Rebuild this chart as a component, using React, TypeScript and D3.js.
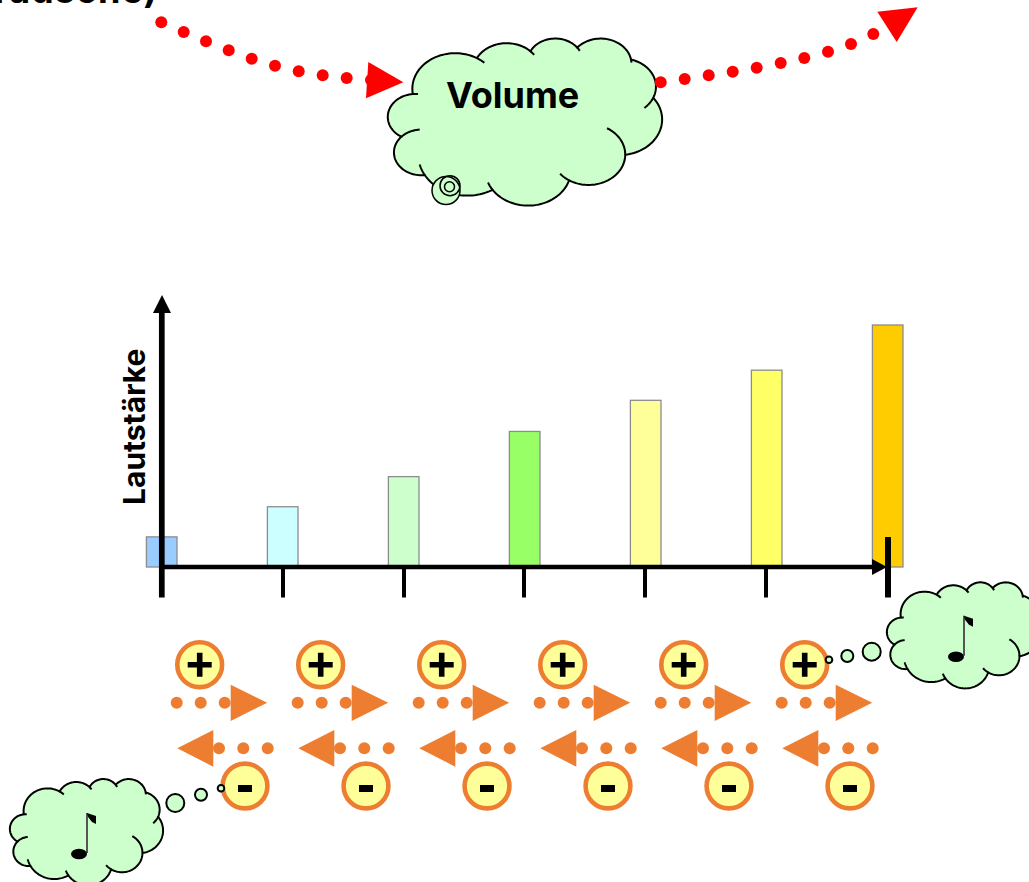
import React from "react";
import * as d3 from "d3";

const W = 1029, H = 882;
const barLabels = ["1", "2", "3", "4", "5", "6", "7"];
const barValues = [30, 60, 90, 135, 166, 196, 241];
const barColors = ["#99ccff", "#ccffff", "#ccffcc", "#99ff66", "#ffff99", "#ffff66", "#ffcc00"];
const plusCenters = [199.7, 320.7, 441.7, 562.7, 683.7, 804.7];
const minusCenters = [245, 366, 487, 608, 729, 850];
const tickPositions = [162, 283, 404, 524, 645, 766, 888];
const redLeft: [number, number][] = [[161.3, 22.3], [183.7, 32], [206, 41.3], [228.7, 50.3], [251.7, 58.7], [275, 65.7], [298.7, 71.3], [322.7, 75.3], [346.7, 78], [371, 80]];
const redRight: [number, number][] = [[660.7, 82.3], [684.7, 79], [708.7, 75.3], [732.7, 71.7], [756.7, 67.7], [780.7, 63], [804.3, 58], [828, 51.7], [851, 44], [873.3, 34]];

const cloudStart: [number, number] = [3900, 14370];
// wR, hR, start angle, sweep
const cloudArcs: [number, number, number, number][] = [
  [6753, 9190, -11429249, 7426832],
  [5333, 7267, -8646143, 5396714],
  [4365, 5945, -8748475, 5983381],
  [4857, 6595, -7859164, 7034504],
  [5333, 7273, -4722533, 6541615],
  [6775, 9220, -2776035, 7816140],
  [5785, 7867, 37501, 6842000],
  [6752, 9215, 1347096, 6910353],
  [7720, 10543, 3974558, 4542661],
  [4360, 5918, -16496525, 8804134],
  [4345, 5945, -14809710, 9151131],
];
// how far each lobe's outline runs on into the cloud (radians past its end / before its start)
const lobeEndRun = [0.22, 0.17, 0.17, 0.12, 0.45, 0, 0.33, 0.23, 0.28, 0.75, 0.2];
const lobeStartRun = [0, 0, 0, 0, 0, 0, 1.05, 0, 0, 0, 0];

function param(a: number, wR: number, hR: number) {
  const r = (a / 60000) * Math.PI / 180;
  return Math.atan2(wR * Math.sin(r), hR * Math.cos(r));
}
function cloudGeometry() {
  let x = cloudStart[0], y = cloudStart[1];
  const pts: [number, number][] = [[x, y]];
  const inner: [number, number][][] = [];
  cloudArcs.forEach(([wR, hR, st, sw], k) => {
    const t0 = param(st, wR, hR), t1 = param(st + sw, wR, hR);
    let dt = t1 - t0;
    if (sw > 0 && dt < 0) dt += 2 * Math.PI;
    if (sw < 0 && dt > 0) dt -= 2 * Math.PI;
    const cx = x - wR * Math.cos(t0), cy = y - hR * Math.sin(t0);
    const n = 40;
    for (let i = 1; i <= n; i++) {
      const t = t0 + dt * i / n;
      pts.push([cx + wR * Math.cos(t), cy + hR * Math.sin(t)]);
    }
    const run = (from: number, len: number) => {
      const ext: [number, number][] = [];
      for (let i = 0; i <= 12; i++) {
        const t = from + len * i / 12;
        ext.push([cx + wR * Math.cos(t), cy + hR * Math.sin(t)]);
      }
      inner.push(ext);
    };
    if (lobeEndRun[k] > 0) run(t1, lobeEndRun[k]);
    if (lobeStartRun[k] > 0) run(t0, -lobeStartRun[k]);
    x = cx + wR * Math.cos(t1); y = cy + hR * Math.sin(t1);
  });
  return { pts, inner };
}
const geo = cloudGeometry();

function Cloud({ x0, x1, y0, y1, lw = 2 }: { x0: number; x1: number; y0: number; y1: number; lw?: number }) {
  const sx = d3.scaleLinear().domain([0, 43200]).range([x0, x1]);
  const sy = d3.scaleLinear().domain([0, 43200]).range([y0, y1]);
  const line = d3.line<[number, number]>().x(d => sx(d[0])).y(d => sy(d[1]));
  return (
    <g fill="none" stroke="#000" strokeWidth={lw}>
      <path d={line(geo.pts)! + "Z"} fill="#ccffcc" />
      {geo.inner.map((p, i) => <path key={i} d={line(p)!} />)}
    </g>
  );
}

function Note({ x, y }: { x: number; y: number }) {
  return (
    <g>
      <line x1={x + 8} y1={y - 1} x2={x + 8} y2={y - 41} stroke="#555" strokeWidth={2} />
      <ellipse cx={x} cy={y} rx={8} ry={5.2} fill="#000" />
      <path d={`M${x + 8},${y - 41} L${x + 17},${y - 38} L${x + 17},${y - 30} L${x + 13},${y - 32} L${x + 9},${y - 37} Z`} fill="#000" />
    </g>
  );
}

const ORANGE = "#ed7d31";
const RED = "#ff0000";
const INTER = "Inter, sans-serif";

export default function App() {
  const xBand = d3.scalePoint<string>().domain(barLabels).range([161.7, 887.7]);
  const yScale = d3.scaleLinear().domain([0, 241]).range([567, 325]);
  return (
    <svg width={W} height={H} style={{ position: "absolute", left: 0, top: 0 }}>
      <text x={158} y={3} textAnchor="end" fontSize={36} fontWeight={700} letterSpacing={1} fill="#000" fontFamily={INTER}>Geräusche)</text>

      <Cloud x0={388} x1={662} y0={38} y1={205} />
      {redLeft.map((p, i) => <circle key={i} cx={p[0]} cy={p[1]} r={6} fill={RED} />)}
      <polygon points="368.3,62 403.3,82.3 366,98.3" fill={RED} />
      {redRight.map((p, i) => <circle key={i} cx={p[0]} cy={p[1]} r={6} fill={RED} />)}
      <polygon points="877.3,11.7 917.7,7.3 896.7,42" fill={RED} />

      <text x={446} y={108} fontSize={36} fontWeight={700} fontFamily={INTER}>Volume</text>
      <g fill="none" stroke="#000" strokeWidth={1.5}>
        <circle cx={446} cy={190.5} r={14} fill="#ccffcc" />
        <circle cx={450} cy={185.7} r={10} />
        <circle cx={449.5} cy={186.7} r={5} />
      </g>

      {barValues.map((v, i) => {
        const cx = xBand(barLabels[i])!;
        return <rect key={i} x={cx - 15.3} y={yScale(v)} width={30.6} height={567 - yScale(v)} fill={barColors[i]} stroke="#8c8c8c" strokeWidth={1.3} />;
      })}

      <line x1={161.8} y1={597.5} x2={161.8} y2={310} stroke="#000" strokeWidth={5.7} />
      <polygon points="162,295 171,313 153,313" fill="#000" />
      <line x1={160} y1={567} x2={875} y2={567} stroke="#000" strokeWidth={4.3} />
      <polygon points="887,567 872,559 872,575" fill="#000" />
      {tickPositions.map((x, i) => i === 0 ? null : (
        <line key={i} x1={x} y1={i === 6 ? 537 : 567} x2={x} y2={597.5} stroke="#000" strokeWidth={i === 6 ? 6 : 4} />
      ))}

      <text transform="translate(145,505) rotate(-90)" fontSize={30} fontWeight={700} fontFamily={INTER}>Lautstärke</text>

      {plusCenters.map((cx, i) => (
        <g key={i}>
          <circle cx={cx} cy={664.7} r={22.4} fill="#ffff99" stroke={ORANGE} strokeWidth={4.6} />
          <path d={`M${cx - 12},664.7H${cx + 12}M${cx},652.7V676.7`} stroke="#000" strokeWidth={5.6} />
          {[-23, 1, 25].map(d => <circle key={d} cx={cx + d} cy={702.7} r={6} fill={ORANGE} />)}
          <polygon points={`${cx + 31},684.7 ${cx + 67.5},702.7 ${cx + 31},721`} fill={ORANGE} />
        </g>
      ))}
      {minusCenters.map((cx, i) => (
        <g key={i}>
          {[-26, -1.7, 22.7].map(d => <circle key={d} cx={cx + d} cy={748.3} r={6} fill={ORANGE} />)}
          <polygon points={`${cx - 31.7},730 ${cx - 67.7},748.3 ${cx - 31.7},766.7`} fill={ORANGE} />
          <circle cx={cx} cy={786} r={22.4} fill="#ffff99" stroke={ORANGE} strokeWidth={4.6} />
          <rect x={cx - 7} y={785} width={14} height={7} fill="#000" />
        </g>
      ))}

      <Cloud x0={887} x1={1040} y0={582} y1={688} />
      <Note x={956} y={656.7} />
      <circle cx={871.7} cy={651.7} r={9} fill="#ccffcc" stroke="#000" strokeWidth={2} />
      <circle cx={847.3} cy={656} r={6} fill="#ccffcc" stroke="#000" strokeWidth={2} />
      <circle cx={829} cy={659.7} r={3.3} fill="#ccffcc" stroke="#000" strokeWidth={2} />

      <Cloud x0={10} x1={163} y0={778.7} y1={885} />
      <Note x={79} y={854} />
      <circle cx={175.3} cy={803} r={9} fill="#ccffcc" stroke="#000" strokeWidth={2} />
      <circle cx={201} cy={794.7} r={6} fill="#ccffcc" stroke="#000" strokeWidth={2} />
      <circle cx={221} cy={788.3} r={3.3} fill="#ccffcc" stroke="#000" strokeWidth={2} />
    </svg>
  );
}
